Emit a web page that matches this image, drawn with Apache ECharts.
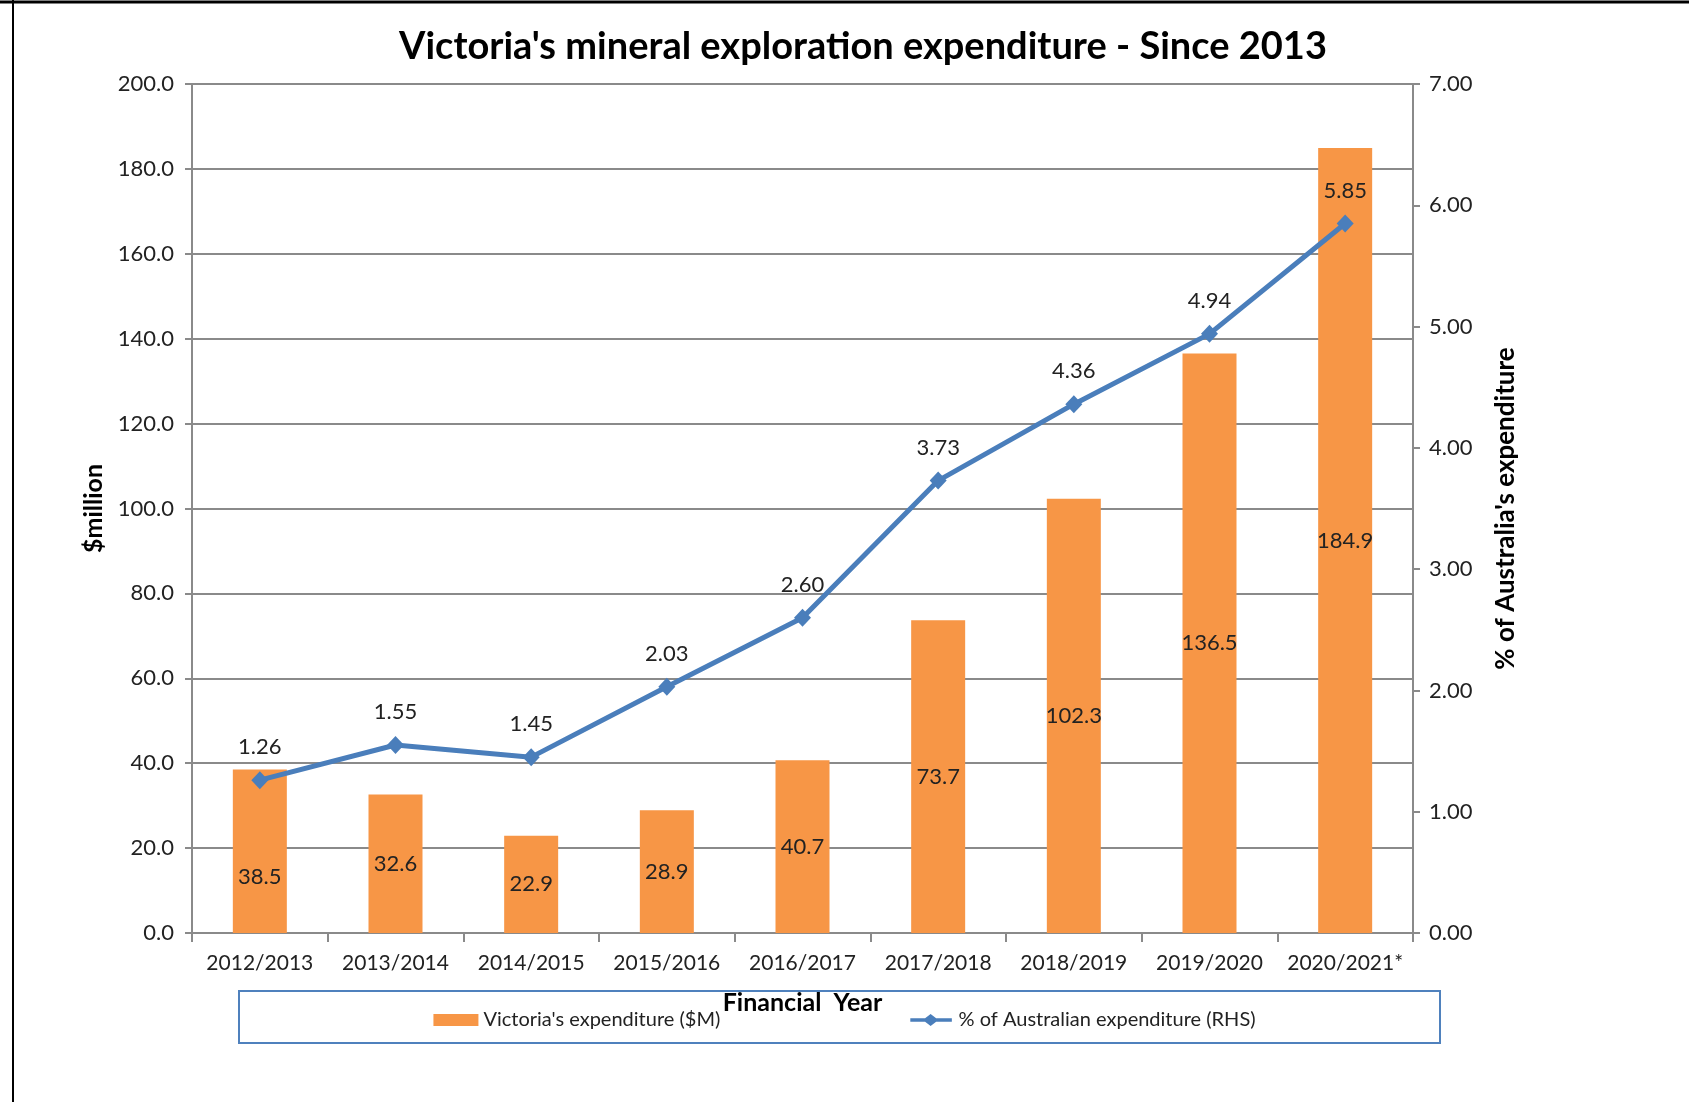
<!DOCTYPE html>
<html>
<head>
<meta charset="utf-8">
<script src="https://cdn.jsdelivr.net/npm/echarts@6/dist/echarts.min.js"></script>
<style>
html,body{margin:0;padding:0;background:#fff;}
#chart{width:1689px;height:1102px;}
</style>
</head>
<body>
<div id="chart"></div>
<script>
const categories = ['2012/2013','2013/2014','2014/2015','2015/2016','2016/2017','2017/2018','2018/2019','2019/2020','2020/2021*'];
const expenditure = [38.5, 32.6, 22.9, 28.9, 40.7, 73.7, 102.3, 136.5, 184.9];
const pctAustralia = [1.26, 1.55, 1.45, 2.03, 2.60, 3.73, 4.36, 4.94, 5.85];
const leftTicks = {min: 0, max: 200, interval: 20};
const rightTicks = {min: 0, max: 7, interval: 1};

const FONT = 'Lato, "Open Sans", sans-serif';
const TXT = '#222';
const GRAY = '#8a8a8a';
const LINE_ICON = 'path://M0,4.5 L16,4.5 L22,0 L28,4.5 L45,4.5 L45,8.5 L28,8.5 L22,13 L16,8.5 L0,8.5 Z';

const chart = echarts.init(document.getElementById('chart'), null, {renderer: 'canvas'});

const barData = expenditure.map((v, i) => i === 0 ? {value: v, label: {offset: [0, 26]}} : v);

chart.setOption({
  backgroundColor: '#fff',
  animation: false,
  textStyle: {fontFamily: FONT},
  title: {
    text: "Victoria's mineral exploration expenditure - Since 2013",
    left: 858, top: 23, textAlign: 'center',
    textStyle: {fontFamily: FONT, fontSize: 38, fontWeight: 'bold', color: '#000'}
  },
  grid: {left: 192, right: 276, top: 84, bottom: 169},
  legend: {
    top: 1005, left: 'center',
    itemGap: 190, itemWidth: 45, itemHeight: 12,
    textStyle: {fontFamily: FONT, fontSize: 20, color: TXT},
    data: [
      {name: "Victoria's expenditure ($M)", icon: 'rect'},
      {name: '% of Australian expenditure (RHS)', icon: LINE_ICON, itemStyle: {color: '#4A7EBB'}}
    ]
  },
  xAxis: {
    type: 'category', data: categories,
    name: 'Financial  Year', nameLocation: 'middle', nameGap: 57,
    nameTextStyle: {fontFamily: FONT, fontSize: 25, fontWeight: 'bold', color: '#000'},
    axisLine: {lineStyle: {color: GRAY, width: 2}},
    axisTick: {show: true, inside: false, length: 9, lineStyle: {color: GRAY, width: 2}},
    axisLabel: {interval: 0, fontFamily: FONT, fontSize: 21, color: TXT, margin: 20}
  },
  yAxis: [{
    type: 'value', position: 'left', min: leftTicks.min, max: leftTicks.max, interval: leftTicks.interval,
    name: '$million', nameLocation: 'middle', nameGap: 86, nameRotate: 90,
    nameTextStyle: {fontFamily: FONT, fontSize: 25, fontWeight: 'bold', color: '#000'},
    axisLine: {show: true, lineStyle: {color: GRAY, width: 2}},
    axisTick: {show: true, length: 7, lineStyle: {color: GRAY, width: 2}},
    axisLabel: {fontFamily: FONT, fontSize: 22, color: TXT, margin: 18, formatter: v => v.toFixed(1)},
    splitLine: {show: true, lineStyle: {color: GRAY, width: 2}}
  }, {
    type: 'value', position: 'right', min: rightTicks.min, max: rightTicks.max, interval: rightTicks.interval,
    name: "% of Australia's expenditure", nameLocation: 'middle', nameGap: 80, nameRotate: 90,
    nameTextStyle: {fontFamily: FONT, fontSize: 26, fontWeight: 'bold', color: '#000'},
    axisLine: {show: true, lineStyle: {color: GRAY, width: 2}},
    axisTick: {show: true, length: 7, lineStyle: {color: GRAY, width: 2}},
    axisLabel: {fontFamily: FONT, fontSize: 22, color: TXT, margin: 16, formatter: v => v.toFixed(2)},
    splitLine: {show: false}
  }],
  series: [{
    name: "Victoria's expenditure ($M)",
    type: 'bar', yAxisIndex: 0, data: barData, barWidth: 54,
    itemStyle: {color: '#F79646'},
    label: {show: true, position: 'inside', fontFamily: FONT, fontSize: 22, color: TXT,
            formatter: p => Number(p.value).toFixed(1)}
  }, {
    name: '% of Australian expenditure (RHS)',
    type: 'line', yAxisIndex: 1, data: pctAustralia,
    symbol: 'diamond', symbolSize: [17, 18],
    lineStyle: {color: '#4A7EBB', width: 5},
    itemStyle: {color: '#4A7EBB'},
    label: {show: true, position: 'top', distance: 13, fontFamily: FONT, fontSize: 22, color: TXT,
            formatter: p => Number(p.value).toFixed(2)},
    z: 5
  }],
  graphic: [
    {type: 'rect', shape: {x: 239, y: 991, width: 1201, height: 52},
     style: {fill: 'none', stroke: '#4F81BD', lineWidth: 2}, z: -1},
    {type: 'line', shape: {x1: 0, y1: 2, x2: 1689, y2: 2}, style: {stroke: '#000', lineWidth: 3}},
    {type: 'line', shape: {x1: 13, y1: 0, x2: 13, y2: 1102}, style: {stroke: '#000', lineWidth: 2}}
  ]
});
</script>
</body>
</html>
